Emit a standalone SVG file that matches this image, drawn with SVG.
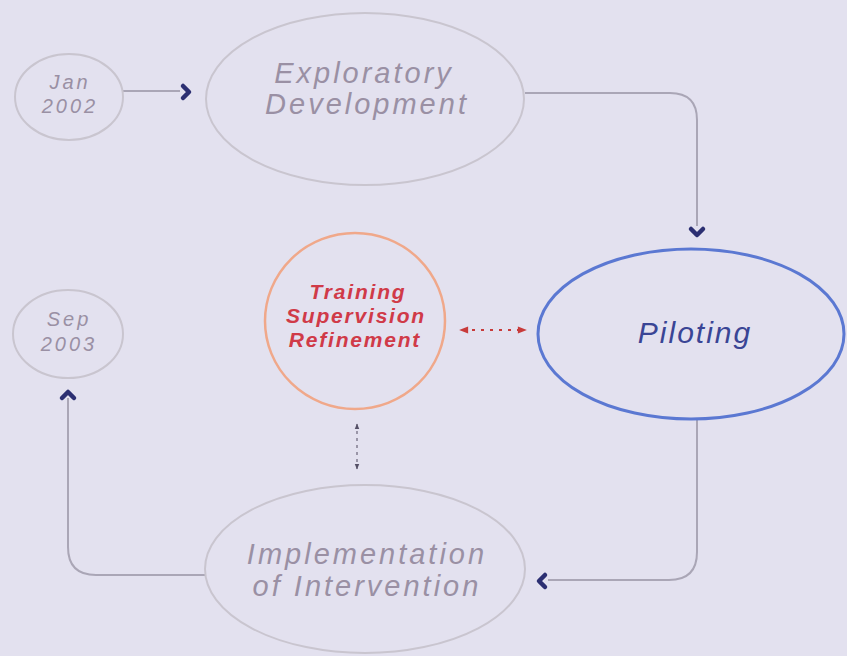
<svg xmlns="http://www.w3.org/2000/svg" width="847" height="656" viewBox="0 0 847 656">
<defs>
<style>
.node{fill:none;stroke:#c9c5cf;stroke-width:2}
.gray{font-family:"Liberation Sans","DejaVu Sans",sans-serif;font-style:italic;fill:#9a90a4;text-anchor:middle}
.big{font-size:29px;letter-spacing:3px}
.small{font-size:20px;letter-spacing:3px}
.red{font-family:"Liberation Sans","DejaVu Sans",sans-serif;font-style:italic;font-weight:bold;font-size:21px;letter-spacing:1.8px;fill:#d03a48;text-anchor:middle}
.conn{fill:none;stroke:#aaa6b6;stroke-width:2}
.chev{fill:none;stroke:#2c2f72;stroke-width:4.5;stroke-linecap:round;stroke-linejoin:round}
</style>
<marker id="rh" viewBox="0 0 10 10" refX="9" refY="5" markerWidth="10" markerHeight="9" markerUnits="userSpaceOnUse" orient="auto-start-reverse">
<path d="M0,1 L10,5 L0,9 z" fill="#c83a3a"/>
</marker>
<marker id="gh" viewBox="0 0 10 10" refX="9" refY="5" markerWidth="6" markerHeight="6" markerUnits="userSpaceOnUse" orient="auto-start-reverse">
<path d="M0,1 L10,5 L0,9 z" fill="#555066"/>
</marker>
</defs>
<rect width="847" height="656" fill="#e3e1ef"/>

<g id="connectors">
<path class="conn" d="M123,91 H180"/>
<path class="chev" d="M183,86 L189,92 L183,98"/>
<path class="conn" d="M525,93 H670 Q697,93 697,120 V226"/>
<path class="chev" d="M691,229 L697,235 L703,229"/>
<path class="conn" d="M697,420 V552 Q697,580 669,580 H548"/>
<path class="chev" d="M545,575 L539,581 L545,587"/>
<path class="conn" d="M205,575 H96 Q68,575 68,547 V398"/>
<path class="chev" d="M62,398 L68,392 L74,398"/>
<path d="M460,330 H526" fill="none" stroke="#c83a3a" stroke-width="2.2" stroke-dasharray="3,6" stroke-dashoffset="-3" marker-start="url(#rh)" marker-end="url(#rh)"/>
<path d="M357,424 V469" fill="none" stroke="#6a6478" stroke-width="1.2" stroke-dasharray="3,4" marker-start="url(#gh)" marker-end="url(#gh)"/>
</g>

<g id="jan2002">
<ellipse class="node" cx="69" cy="97" rx="54" ry="43"/>
<text class="gray small" x="70" y="89">Jan</text>
<text class="gray small" x="70" y="113">2002</text>
</g>

<g id="exploratory">
<ellipse class="node" cx="365" cy="99" rx="159" ry="86"/>
<text class="gray big" x="364" y="83" letter-spacing="3.6">Exploratory</text>
<text class="gray big" x="367" y="114">Development</text>
</g>

<g id="training">
<ellipse cx="355" cy="321" rx="90" ry="88" fill="none" stroke="#f0a88a" stroke-width="2.5"/>
<text class="red" x="358" y="299">Training</text>
<text class="red" x="356" y="323">Supervision</text>
<text class="red" x="355" y="347">Refinement</text>
</g>

<g id="piloting">
<ellipse cx="691" cy="334" rx="153" ry="85" fill="none" stroke="#5b78d2" stroke-width="3"/>
<text x="695" y="343" font-family="Liberation Sans,sans-serif" font-style="italic" font-size="30" letter-spacing="2" fill="#3a4595" text-anchor="middle">Piloting</text>
</g>

<g id="sep2003">
<ellipse class="node" cx="68" cy="334" rx="55" ry="44"/>
<text class="gray small" x="69" y="326">Sep</text>
<text class="gray small" x="69" y="351">2003</text>
</g>

<g id="implementation">
<ellipse class="node" cx="365" cy="569" rx="160" ry="84"/>
<text class="gray big" x="367" y="564">Implementation</text>
<text class="gray big" x="367" y="596">of Intervention</text>
</g>
</svg>
